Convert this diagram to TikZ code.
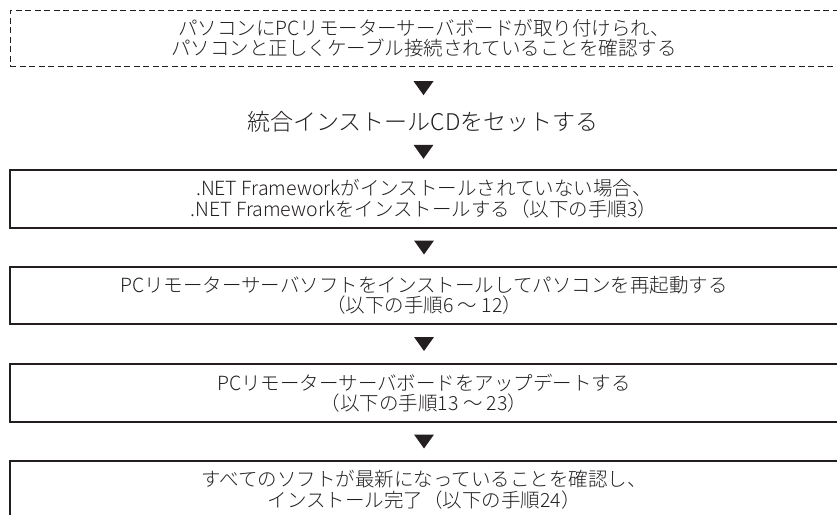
\documentclass[tikz,border=0pt]{standalone}
\usepackage{fontspec}
\setmainfont{Noto Sans CJK JP Light}
\usetikzlibrary{calc}
\definecolor{ink}{HTML}{231F20}
\tikzset{
  stepbox/.style={draw=ink, line width=1.3pt, minimum width=828pt, minimum height=57pt,
    inner sep=0pt, align=center, text=ink, font=\fontsize{19.5pt}{20.5pt}\selectfont},
  dashbox/.style={stepbox, line width=1pt, dash pattern=on 6pt off 3.5pt},
  plaintext/.style={inner sep=0pt, minimum height=24pt, text=ink, font=\fontsize{23pt}{24pt}\selectfont},
  downtri/.pic={\fill[ink] (-10,-7) -- (10,-7) -- (0,7) -- cycle;}
}
\begin{document}
\begin{tikzpicture}[x=1pt,y=-1pt]
\useasboundingbox (0,0) rectangle (837,514);
\clip (0,0) rectangle (837,514);
\node[dashbox, minimum height=56pt] (b1) at (424,38) {パソコンにPCリモーターサーバボードが取り付けられ、\\パソコンと正しくケーブル接続されていることを確認する};
\node[plaintext] (t2) at (423,122) {統合インストールCDをセットする};
\node[stepbox, minimum height=58pt] (b2) at (424,199) {.NET Frameworkがインストールされていない場合、\\.NET Frameworkをインストールする（以下の手順3）};
\node[stepbox] (b3) at (424,295.5) {PCリモーターサーバソフトをインストールしてパソコンを再起動する\\（以下の手順6 〜 12）};
\node[stepbox, minimum height=58pt] (b4) at (424,393) {PCリモーターサーバボードをアップデートする\\（以下の手順13 〜 23）};
\node[stepbox, minimum height=58pt] (b5) at (424,490) {すべてのソフトが最新になっていることを確認し、\\インストール完了（以下の手順24）};
\pic at ($(b1.south)!0.5!(t2.north)$) {downtri};
\pic at ($(t2.south)!0.5!(b2.north)$) {downtri};
\pic at ($(b2.south)!0.5!(b3.north)$) {downtri};
\pic at ($(b3.south)!0.5!(b4.north)$) {downtri};
\pic at ($(b4.south)!0.5!(b5.north)$) {downtri};
\end{tikzpicture}
\end{document}
